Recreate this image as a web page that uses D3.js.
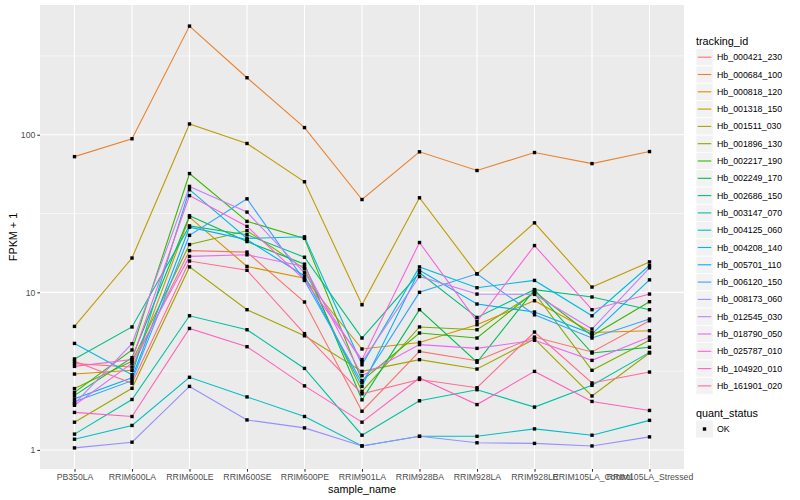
<!DOCTYPE html>
<html>
<head>
<meta charset="utf-8">
<script src="https://cdn.jsdelivr.net/npm/d3@7"></script>
<style>
  body { margin: 0; background: #fff; }
  text { font-family: "Liberation Sans", Arial, sans-serif; }
</style>
</head>
<body>
<svg id="chart" width="800" height="500"></svg>
<script>
// samples on the x axis
var samples = ["PB350LA", "RRIM600LA", "RRIM600LE", "RRIM600SE", "RRIM600PE", "RRIM901LA",
  "RRIM928BA", "RRIM928LA", "RRIM928LE", "RRIM105LA_Control", "RRIM105LA_Stressed"];

var trackingIds = ["Hb_000421_230", "Hb_000684_100", "Hb_000818_120", "Hb_001318_150", "Hb_001511_030",
  "Hb_001896_130", "Hb_002217_190", "Hb_002249_170", "Hb_002686_150", "Hb_003147_070",
  "Hb_004125_060", "Hb_004208_140", "Hb_005701_110", "Hb_006120_150", "Hb_008173_060",
  "Hb_012545_030", "Hb_018790_050", "Hb_025787_010", "Hb_104920_010", "Hb_161901_020"];

// FPKM + 1, one row per tracking id, one value per sample
var Hb_000421_230 = [3.53, 3.36, 18.4, 18.0, 8.68, 1.76, 4.22, 3.68, 5.2, 4.18, 6.6];
var Hb_000684_100 = [72.6, 94.3, 489, 230, 111, 38.8, 77.9, 59.3, 77.1, 65.6, 78.2];
var Hb_000818_120 = [3.03, 3.2, 30.0, 14.6, 12.3, 4.37, 4.81, 6.23, 8.85, 5.56, 5.71];
var Hb_001318_150 = [6.08, 16.5, 117, 88, 50.3, 8.34, 39.8, 13.1, 27.6, 10.8, 15.6];
var Hb_001511_030 = [1.50, 2.46, 14.5, 7.76, 5.3, 3.15, 3.74, 3.26, 5.06, 2.2, 4.12];
var Hb_001896_130 = [2.45, 3.65, 20.1, 24.6, 14.1, 2.35, 6.03, 5.79, 9.9, 3.2, 4.96];
var Hb_002217_190 = [2.32, 4.31, 56.7, 28.2, 22.0, 2.75, 5.52, 5.13, 10.1, 5.3, 8.72];
var Hb_002249_170 = [2.22, 3.85, 30.6, 21.0, 15.1, 2.08, 7.76, 3.6, 10.4, 4.12, 4.48];
var Hb_002686_150 = [3.78, 6.03, 26.4, 23.2, 16.7, 5.13, 13.3, 6.93, 10.4, 9.34, 7.76];
var Hb_003147_070 = [1.26, 2.09, 7.1, 5.79, 3.29, 1.24, 2.05, 2.41, 1.87, 2.57, 4.16];
var Hb_004125_060 = [1.17, 1.43, 2.89, 2.17, 1.63, 1.06, 1.22, 1.22, 1.36, 1.24, 1.54];
var Hb_004208_140 = [4.74, 3.0, 44.8, 22.0, 22.5, 3.47, 14.5, 10.7, 11.9, 7.1, 14.8];
var Hb_005701_110 = [2.11, 2.87, 25.9, 21.6, 12.7, 2.53, 13.8, 8.43, 7.5, 5.45, 12.0];
var Hb_006120_150 = [2.02, 2.75, 23.0, 39.2, 11.9, 2.68, 10.0, 13.1, 7.2, 5.13, 6.77];
var Hb_008173_060 = [1.03, 1.12, 2.53, 1.55, 1.38, 1.06, 1.22, 1.11, 1.10, 1.06, 1.21];
var Hb_012545_030 = [1.97, 4.72, 47.0, 32.3, 13.3, 3.63, 12.6, 9.75, 9.7, 5.85, 14.3];
var Hb_018790_050 = [1.92, 3.55, 16.9, 17.3, 14.6, 2.96, 4.66, 4.41, 4.96, 3.70, 5.2];
var Hb_025787_010 = [3.39, 3.75, 41.1, 26.2, 12.0, 3.74, 20.7, 6.54, 19.8, 7.76, 9.75];
var Hb_104920_010 = [1.73, 1.63, 5.9, 4.52, 2.55, 1.50, 2.86, 1.94, 3.15, 2.03, 1.78];
var Hb_161901_020 = [3.65, 2.65, 15.8, 13.8, 5.47, 2.27, 2.8, 2.48, 5.6, 2.66, 3.12];

var seriesValues = [Hb_000421_230, Hb_000684_100, Hb_000818_120, Hb_001318_150, Hb_001511_030,
  Hb_001896_130, Hb_002217_190, Hb_002249_170, Hb_002686_150, Hb_003147_070,
  Hb_004125_060, Hb_004208_140, Hb_005701_110, Hb_006120_150, Hb_008173_060,
  Hb_012545_030, Hb_018790_050, Hb_025787_010, Hb_104920_010, Hb_161901_020];

var yTicks = [1, 10, 100];
var yMinor = [Math.pow(10, 0.5), Math.pow(10, 1.5), Math.pow(10, 2.5)];

// ggplot default hue palette
var colors = ["#F8766D", "#EA8331", "#D89000", "#C09B00", "#A3A500", "#7CAE00", "#39B600",
  "#00BB4E", "#00BF7D", "#00C1A3", "#00BFC4", "#00BAE0", "#00B0F6", "#35A2FF", "#9590FF",
  "#C77CFF", "#E76BF3", "#FA62DB", "#FF62BC", "#FF6C91"];

var series = trackingIds.map(function(id, i) {
  return { id: id, color: colors[i], values: seriesValues[i].map(function(v, j) {
    return { sample: samples[j], value: v };
  }) };
});

var svg = d3.select("#chart");
var panel = { left: 40, right: 684, top: 5, bottom: 469 };

var x = d3.scalePoint()
  .domain(samples)
  .range([panel.left, panel.right])
  .padding(0.6);

// log scale with ggplot style 5% expansion
var all = [].concat.apply([], seriesValues);
var lmin = Math.log10(d3.min(all)), lmax = Math.log10(d3.max(all));
var pad = (lmax - lmin) * 0.05;
var y = d3.scaleLog()
  .domain([Math.pow(10, lmin - pad), Math.pow(10, lmax + pad)])
  .range([panel.bottom, panel.top]);

svg.append("rect")
  .attr("x", panel.left).attr("y", panel.top)
  .attr("width", panel.right - panel.left).attr("height", panel.bottom - panel.top)
  .attr("fill", "#EBEBEB");

var grid = svg.append("g");
grid.selectAll(".minor").data(yMinor).enter().append("line")
  .attr("x1", panel.left).attr("x2", panel.right)
  .attr("y1", d => y(d)).attr("y2", d => y(d))
  .attr("stroke", "#fff").attr("stroke-width", 0.55);
grid.selectAll(".ymajor").data(yTicks).enter().append("line")
  .attr("x1", panel.left).attr("x2", panel.right)
  .attr("y1", d => y(d)).attr("y2", d => y(d))
  .attr("stroke", "#fff").attr("stroke-width", 1.1);
grid.selectAll(".xmajor").data(samples).enter().append("line")
  .attr("x1", d => x(d)).attr("x2", d => x(d))
  .attr("y1", panel.top).attr("y2", panel.bottom)
  .attr("stroke", "#fff").attr("stroke-width", 1.1);

var line = d3.line()
  .x(d => x(d.sample))
  .y(d => y(d.value));

svg.append("g").selectAll("path")
  .data(series).enter().append("path")
  .attr("d", d => line(d.values))
  .attr("fill", "none")
  .attr("stroke", d => d.color)
  .attr("stroke-width", 1.1);

svg.append("g").selectAll("g")
  .data(series).enter().append("g")
  .selectAll("rect")
  .data(d => d.values).enter().append("rect")
  .attr("x", d => x(d.sample) - 1.7)
  .attr("y", d => y(d.value) - 1.7)
  .attr("width", 3.4).attr("height", 3.4)
  .attr("fill", "#000");

// axes
var yAxis = d3.axisLeft(y).tickValues(yTicks).tickFormat(d3.format("d")).tickSize(2.7).tickPadding(2);
var gy = svg.append("g").attr("transform", "translate(" + panel.left + ",0)").call(yAxis);
var xAxis = d3.axisBottom(x).tickSize(2.7).tickPadding(2.5);
var gx = svg.append("g").attr("transform", "translate(0," + panel.bottom + ")").call(xAxis);
[gx, gy].forEach(function(g) {
  g.select(".domain").remove();
  g.selectAll(".tick line").attr("stroke", "#333").attr("stroke-width", 1.07);
  g.selectAll(".tick text").attr("fill", "#4D4D4D").style("font-size", "8.7px");
});

svg.append("text")
  .attr("x", (panel.left + panel.right) / 2).attr("y", 492.5)
  .attr("text-anchor", "middle").style("font-size", "10.8px")
  .text("sample_name");
svg.append("text")
  .attr("transform", "translate(17," + ((panel.top + panel.bottom) / 2) + ") rotate(-90)")
  .attr("text-anchor", "middle").style("font-size", "10.8px")
  .text("FPKM + 1");

// legends
var legend = svg.append("g");
legend.append("text").attr("x", 696).attr("y", 44.5).style("font-size", "10.8px").text("tracking_id");
var keyStep = 17.3, keyTop = 48.7;
var keys = legend.selectAll(".key").data(series).enter().append("g")
  .attr("transform", (d, i) => "translate(696," + (keyTop + i * keyStep) + ")");
keys.append("rect").attr("width", 17).attr("height", 17).attr("fill", "#F2F2F2")
  .attr("stroke", "#fff").attr("stroke-width", 0.6);
keys.append("line").attr("x1", 1.7).attr("x2", 15.3).attr("y1", 8.5).attr("y2", 8.5)
  .attr("stroke", d => d.color).attr("stroke-width", 1.1);
keys.append("text").attr("x", 21).attr("y", 11.6).style("font-size", "8.8px").text(d => d.id);

legend.append("text").attr("x", 696).attr("y", 416.5).style("font-size", "10.8px").text("quant_status");
var ok = legend.append("g").attr("transform", "translate(696,420.5)");
ok.append("rect").attr("width", 17).attr("height", 17).attr("fill", "#F2F2F2");
ok.append("rect").attr("x", 6.8).attr("y", 6.8).attr("width", 3.4).attr("height", 3.4).attr("fill", "#000");
ok.append("text").attr("x", 21).attr("y", 11.6).style("font-size", "8.8px").text("OK");
</script>
</body>
</html>
